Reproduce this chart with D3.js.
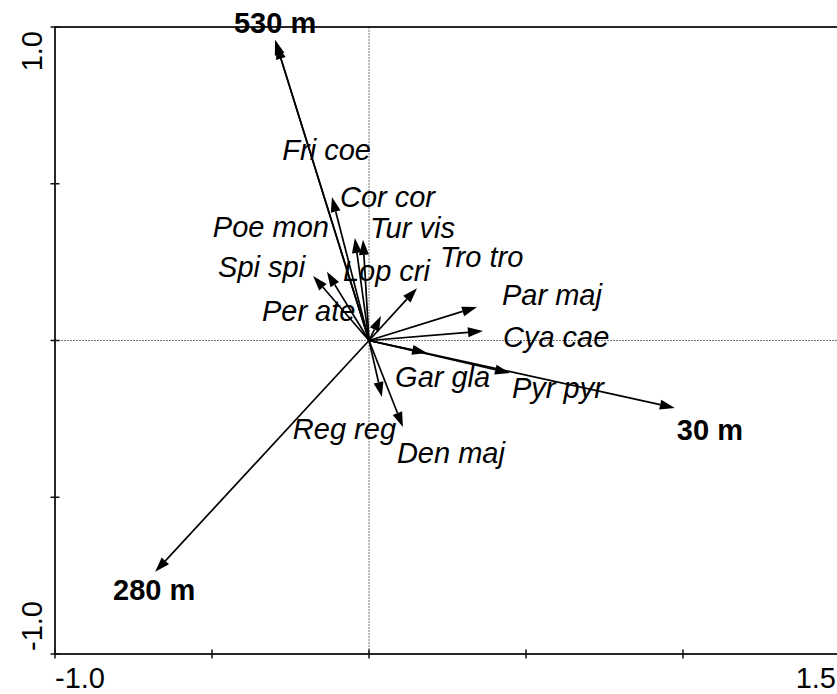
<!DOCTYPE html>
<html>
<head>
<meta charset="utf-8">
<script src="https://cdn.jsdelivr.net/npm/d3@7"></script>
<style>
  html, body { margin: 0; padding: 0; background: #fff; }
  svg { display: block; }
  text { font-family: "Liberation Sans", Arial, sans-serif; fill: #000; }
</style>
</head>
<body>
<script>
// Ordination biplot: species arrows (italic) and altitude arrows (bold)

// Environmental variables (axis 1, axis 2 scores)
const envNames = ["530 m", "30 m", "280 m"];
const envX = [-0.299, 0.974, -0.681];
const envY = [0.959, -0.215, -0.738];

// Species scores
const spNames = ["Fri coe", "Cor cor", "Poe mon", "Tur vis", "Spi spi", "Lop cri", "Tro tro",
                 "Per ate", "Par maj", "Cya cae", "Gar gla", "Pyr pyr", "Reg reg", "Den maj"];
const spX = [-0.295, -0.118, -0.045, -0.019, -0.178, -0.134, 0.153,
             0.038, 0.344, 0.363, 0.185, 0.449, 0.041, 0.108];
const spY = [0.945, 0.458, 0.327, 0.321, 0.206, 0.219, 0.167,
             0.078, 0.107, 0.030, -0.040, -0.104, -0.180, -0.276];

// Axis ticks and the labelled ends
const xTicks = [-1.0, -0.5, 0, 0.5, 1.0, 1.5];
const yTicks = [-1.0, -0.5, 0, 0.5, 1.0];
const xTickLabels = ["-1.0", "1.5"];
const yTickLabels = ["-1.0", "1.0"];

// Label placement relative to the arrow tip (pixels)
const envLabelOffset = [[0, -7], [2, 32], [-1, 28]];
const envLabelAnchor = ["middle", "start", "middle"];
const spLabelOffset = [[6, 116], [8, 10], [-142, -1], [7, -2], [-95, 1], [16, 9], [23, -21],
                       [-119, 5], [25, -2], [20, 16], [-32, 34], [2, 25], [-89, 42], [-6, 36]];

const W = 837, H = 694;
const plotLeft = 55, plotRight = 840, plotTop = 27, plotBottom = 654;

const svg = d3.select("body").append("svg")
  .attr("width", W).attr("height", H);

const x = d3.scaleLinear().domain([-1.0, 1.5]).range([plotLeft, plotRight]);
const y = d3.scaleLinear().domain([-1.0, 1.0]).range([plotBottom, plotTop]);

// Zero reference lines (fine dotted)
svg.append("line")
  .attr("x1", x(0)).attr("x2", x(0)).attr("y1", y(1)).attr("y2", y(-1))
  .attr("stroke", "#777").attr("stroke-width", 1).attr("stroke-dasharray", "2,1");
svg.append("line")
  .attr("x1", x(-1)).attr("x2", x(1.5)).attr("y1", y(0)).attr("y2", y(0))
  .attr("stroke", "#777").attr("stroke-width", 1).attr("stroke-dasharray", "2,1");

// Frame
svg.append("rect")
  .attr("x", plotLeft).attr("y", plotTop)
  .attr("width", plotRight - plotLeft).attr("height", plotBottom - plotTop)
  .attr("fill", "none").attr("stroke", "#111").attr("stroke-width", 1.8);

// Ticks crossing the frame
const tickLen = 4.5;
svg.append("g").selectAll("line").data(xTicks).join("line")
  .attr("x1", d => x(d)).attr("x2", d => x(d))
  .attr("y1", plotBottom - tickLen).attr("y2", plotBottom + tickLen)
  .attr("stroke", "#111").attr("stroke-width", 1.5);
svg.append("g").selectAll("line").data(yTicks).join("line")
  .attr("x1", plotLeft - tickLen).attr("x2", plotLeft + tickLen)
  .attr("y1", d => y(d)).attr("y2", d => y(d))
  .attr("stroke", "#111").attr("stroke-width", 1.5);

// Tick labels at both ends of each axis
svg.append("text").attr("x", x(-1.0)).attr("y", 688)
  .attr("font-size", 29).attr("text-anchor", "start").text(xTickLabels[0]);
svg.append("text").attr("x", W - 1).attr("y", 688)
  .attr("font-size", 29).attr("text-anchor", "end").text(xTickLabels[1]);
svg.append("text")
  .attr("transform", `translate(42,${y(-1.0) - 3}) rotate(-90)`)
  .attr("font-size", 29).attr("text-anchor", "start").text(yTickLabels[0]);
svg.append("text")
  .attr("transform", `translate(42,${y(1.0) + 4}) rotate(-90)`)
  .attr("font-size", 29).attr("text-anchor", "end").text(yTickLabels[1]);

// Arrow drawing: shaft from origin plus filled triangular head at the score
const headLen = 15, headHalf = 5;
function drawArrow(g, vx, vy) {
  const x0 = x(0), y0 = y(0), x1 = x(vx), y1 = y(vy);
  const len = Math.hypot(x1 - x0, y1 - y0);
  const ux = (x1 - x0) / len, uy = (y1 - y0) / len;
  const bx = x1 - ux * headLen, by = y1 - uy * headLen;
  g.append("line")
    .attr("x1", x0).attr("y1", y0).attr("x2", bx).attr("y2", by)
    .attr("stroke", "#000").attr("stroke-width", 1.7);
  g.append("path")
    .attr("d", `M${x1},${y1}L${bx - uy * headHalf},${by + ux * headHalf}L${bx + uy * headHalf},${by - ux * headHalf}Z`)
    .attr("fill", "#000");
}

const arrows = svg.append("g");
spNames.forEach((n, i) => drawArrow(arrows, spX[i], spY[i]));
envNames.forEach((n, i) => drawArrow(arrows, envX[i], envY[i]));

// Species labels (italic)
svg.append("g").selectAll("text").data(spNames).join("text")
  .attr("x", (d, i) => x(spX[i]) + spLabelOffset[i][0])
  .attr("y", (d, i) => y(spY[i]) + spLabelOffset[i][1])
  .attr("font-size", 29).attr("font-style", "italic")
  .attr("text-anchor", "start")
  .text(d => d);

// Environmental labels (bold)
svg.append("g").selectAll("text").data(envNames).join("text")
  .attr("x", (d, i) => x(envX[i]) + envLabelOffset[i][0])
  .attr("y", (d, i) => y(envY[i]) + envLabelOffset[i][1])
  .attr("font-size", 29).attr("font-weight", "bold")
  .attr("text-anchor", (d, i) => envLabelAnchor[i])
  .text(d => d);
</script>
</body>
</html>
